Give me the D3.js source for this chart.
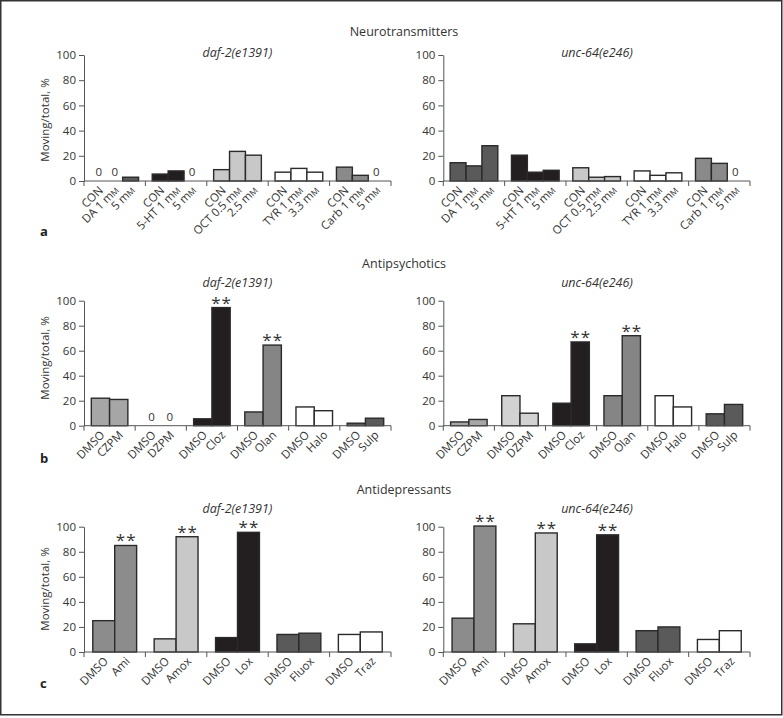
<!DOCTYPE html>
<html>
<head>
<meta charset="utf-8">
<script src="https://cdn.jsdelivr.net/npm/d3@7"></script>
<style>
  html, body { margin: 0; padding: 0; background: #fff; }
  svg { display: block; font-family: "Open Sans", "Noto Sans", sans-serif; }
</style>
</head>
<body>
<svg id="chart" width="783" height="718"></svg>
<script>
// ---------------- DATA ----------------
const sectionTitles = ["Neurotransmitters", "Antipsychotics", "Antidepressants"];
const strains = ["daf-2(e1391)", "unc-64(e246)"];
const panelLetters = ["a", "b", "c"];
const yTicks = [0, 20, 40, 60, 80, 100];
const yLabel = "Moving/total, %";

// (a) Neurotransmitters
const ntGroups = ["DA", "5-HT", "OCT", "TYR", "Carb"];
const ntLabels = [
  ["CON", "DA 1 mM", "5 mM"],
  ["CON", "5-HT 1 mM", "5 mM"],
  ["CON", "OCT 0.5 mM", "2.5 mM"],
  ["CON", "TYR 1 mM", "3.3 mM"],
  ["CON", "Carb 1 mM", "5 mM"]
];
const ntDaf2  = [[0, 0, 3], [5.5, 8, 0], [9, 23.5, 20.5], [7, 10, 7], [11, 4.5, 0]];
const ntUnc64 = [[14.5, 12, 28], [20.5, 7, 8.5], [10.5, 3, 3.5], [8, 4.5, 6.5], [18, 14, 0]];
const ntSig = [];

// (b) Antipsychotics
const apGroups = ["CZPM", "DZPM", "Cloz", "Olan", "Halo", "Sulp"];
const apLabels = apGroups.map(g => ["DMSO", g]);
const apDaf2  = [[22, 21], [0, 0], [5.5, 94.5], [11, 64.5], [15, 12], [2, 6]];
const apUnc64 = [[3, 5], [24, 10], [18, 67], [24, 72], [24, 15], [9.5, 17]];
const apSig = ["Cloz", "Olan"];

// (c) Antidepressants
const adGroups = ["Ami", "Amox", "Lox", "Fluox", "Traz"];
const adLabels = adGroups.map(g => ["DMSO", g]);
const adDaf2  = [[25, 85], [10.5, 92], [11.5, 95.5], [14, 15], [14, 16]];
const adUnc64 = [[27, 100.5], [22.5, 95], [6.5, 93.5], [17, 20], [10, 17]];
const adSig = ["Ami", "Amox", "Lox"];

// ---------------- STYLE / LAYOUT ----------------
const ntColors = ["#5a5a5a", "#231f20", "#c8c8c8", "#ffffff", "#8a8a8a"];
const apColors = ["#a6a6a6", "#d2d2d2", "#231f20", "#858585", "#ffffff", "#5a5a5a"];
const adColors = ["#8c8c8c", "#c8c8c8", "#231f20", "#5a5a5a", "#ffffff"];

const rows = [
  { groups: ntGroups, labels: ntLabels, data: [ntDaf2, ntUnc64], colors: ntColors, sig: ntSig,
    yTop: 55, yBot: 181, barPad: 0.43, titleY: 36, subY: 56.5, yLabY: 120, letterY: 236 },
  { groups: apGroups, labels: apLabels, data: [apDaf2, apUnc64], colors: apColors, sig: apSig,
    yTop: 300.7, yBot: 425.7, barPad: 0.4, titleY: 267.5, subY: 286.5, yLabY: 358, letterY: 463 },
  { groups: adGroups, labels: adLabels, data: [adDaf2, adUnc64], colors: adColors, sig: adSig,
    yTop: 526.7, yBot: 652, barPad: 0.4, titleY: 493.5, subY: 512.5, yLabY: 589, letterY: 688 }
];
const cols = [
  { x0: 84, x1: 391, subX: 237.5 },
  { x0: 443.3, x1: 750, subX: 597 }
];
const textColor = "#333";
const axisColor = "#555";

const svg = d3.select("#chart");

// frame
svg.append("rect")
  .attr("x", 0.75).attr("y", 0.75).attr("width", 781).attr("height", 714)
  .attr("fill", "none").attr("stroke", "#333").attr("stroke-width", 1.5);

function addLabel(sel, str) {
  const idx = str.indexOf("mM");
  if (idx < 0) { sel.text(str); return; }
  sel.append("tspan").text(str.slice(0, idx) + "m");
  sel.append("tspan").attr("font-size", 8.5).text("M");
  const rest = str.slice(idx + 2);
  if (rest) sel.append("tspan").text(rest);
}

rows.forEach((row, ri) => {
  // section title
  svg.append("text")
    .attr("x", 404).attr("y", row.titleY)
    .attr("text-anchor", "middle").attr("font-size", 12.5).attr("fill", textColor)
    .text(sectionTitles[ri]);

  // panel letter
  svg.append("text")
    .attr("x", 40).attr("y", row.letterY)
    .attr("font-size", 13).attr("font-weight", "bold").attr("fill", "#222")
    .text(panelLetters[ri]);

  cols.forEach((col, ci) => {
    const g = svg.append("g");
    const values = row.data[ci];

    const y = d3.scaleLinear().domain([0, 100]).range([row.yBot, row.yTop]);
    const xg = d3.scaleBand().domain(row.groups).range([col.x0, col.x1]).padding(0);
    const nBars = values[0].length;
    const xb = d3.scaleBand().domain(d3.range(nBars)).range([0, xg.bandwidth()])
      .paddingInner(0).paddingOuter(row.barPad);

    // subtitle
    g.append("text")
      .attr("x", col.subX).attr("y", row.subY)
      .attr("text-anchor", "middle").attr("font-size", 12.5).attr("font-style", "italic")
      .attr("fill", textColor)
      .text(strains[ci]);

    // y label
    if (ci === 0) {
      g.append("text")
        .attr("transform", `translate(49,${row.yLabY}) rotate(-90)`)
        .attr("text-anchor", "middle").attr("font-size", 11.5).attr("fill", textColor)
        .text(yLabel);
    }

    // bars
    row.groups.forEach((grp, gi) => {
      values[gi].forEach((v, bi) => {
        const bx = xg(grp) + xb(bi);
        const cx = bx + xb.bandwidth() / 2;
        if (v > 0) {
          g.append("rect")
            .attr("x", bx).attr("y", y(v))
            .attr("width", xb.bandwidth()).attr("height", y(0) - y(v))
            .attr("fill", row.colors[gi]).attr("stroke", "#2a2a2a").attr("stroke-width", 1.4);
        } else {
          g.append("text")
            .attr("transform", `translate(${cx},${y(0) - 4.5}) rotate(0.01)`)
            .attr("text-anchor", "middle").attr("font-size", 11.5)
            .style("fill", textColor)
            .text("0");
        }
        if (row.sig.includes(grp) && bi === nBars - 1) {
          g.append("text")
            .attr("transform", `translate(${cx + 0.5},${y(v) + 1})`)
            .attr("text-anchor", "middle").attr("font-size", 17).attr("letter-spacing", 1)
            .attr("fill", textColor)
            .text("**");
        }
        // x tick label
        const t = g.append("text")
          .attr("transform", `translate(${cx + 5},${y(0) + 10}) rotate(-45)`)
          .attr("text-anchor", "end").attr("font-size", 11.5).attr("fill", textColor);
        addLabel(t, row.labels[gi][bi]);
      });
    });

    // y axis
    const yAxis = d3.axisLeft(y).tickValues(yTicks).tickSize(5).tickSizeOuter(0).tickPadding(3);
    const ya = g.append("g").attr("transform", `translate(${col.x0},0)`).call(yAxis);
    ya.select(".domain").attr("stroke", axisColor);
    ya.selectAll(".tick line").attr("stroke", axisColor);
    ya.selectAll(".tick text").attr("font-size", 11.5).attr("fill", textColor)
      .attr("font-family", "\"Open Sans\", \"Noto Sans\", sans-serif");

    // x axis line and group boundary ticks
    g.append("line")
      .attr("x1", col.x0).attr("x2", col.x1).attr("y1", y(0)).attr("y2", y(0))
      .attr("stroke", axisColor).attr("stroke-width", 1);
    const bounds = row.groups.map(d => xg(d)).concat([col.x1]);
    g.selectAll(".xtick").data(bounds).enter().append("line")
      .attr("x1", d => d).attr("x2", d => d)
      .attr("y1", y(0)).attr("y2", y(0) + 5)
      .attr("stroke", axisColor).attr("stroke-width", 1);
  });
});
</script>
</body>
</html>
